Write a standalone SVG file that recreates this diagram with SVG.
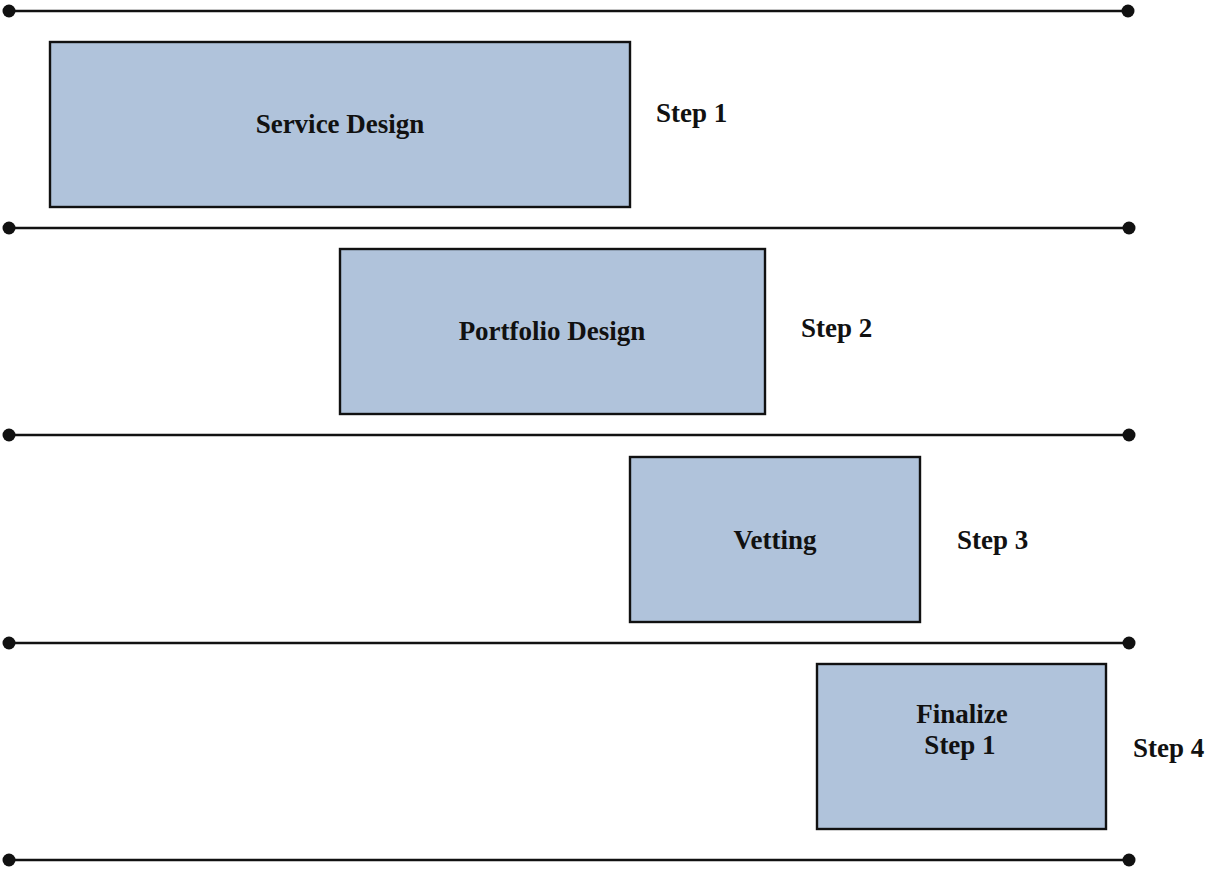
<svg xmlns="http://www.w3.org/2000/svg" width="1205" height="871" viewBox="0 0 1205 871">
  <style>
    .bg { fill: #ffffff; }
    .box { fill: #b0c3db; stroke: #111111; stroke-width: 2.4; }
    .lane { stroke: #111111; stroke-width: 2.5; fill: none; }
    .dot { fill: #111111; }
    .label { font-family: "Liberation Serif", "Times New Roman", serif; font-weight: bold; font-size: 27px; fill: #111111; }
    .mid { text-anchor: middle; }
  </style>
  <rect class="bg" x="0" y="0" width="1205" height="871"/>

  <!-- lane separators with end dots -->
  <g id="connectors">
    <line class="lane" x1="9" y1="11" x2="1128" y2="11"/>
    <circle class="dot" cx="9" cy="11" r="6.5"/><circle class="dot" cx="1128" cy="11" r="6.5"/>
    <line class="lane" x1="9" y1="228" x2="1129" y2="228"/>
    <circle class="dot" cx="9" cy="228" r="6.5"/><circle class="dot" cx="1129" cy="228" r="6.5"/>
    <line class="lane" x1="9" y1="435" x2="1129" y2="435"/>
    <circle class="dot" cx="9" cy="435" r="6.5"/><circle class="dot" cx="1129" cy="435" r="6.5"/>
    <line class="lane" x1="9" y1="643" x2="1129" y2="643"/>
    <circle class="dot" cx="9" cy="643" r="6.5"/><circle class="dot" cx="1129" cy="643" r="6.5"/>
    <line class="lane" x1="9" y1="860" x2="1129" y2="860"/>
    <circle class="dot" cx="9" cy="860" r="6.5"/><circle class="dot" cx="1129" cy="860" r="6.5"/>
  </g>

  <g id="service-design">
    <rect class="box" x="50" y="42" width="580" height="165"/>
    <text class="label mid" x="340" y="133">Service Design</text>
  </g>
  <g id="step1-label">
    <text class="label" x="656" y="122">Step 1</text>
  </g>

  <g id="portfolio-design">
    <rect class="box" x="340" y="249" width="425" height="165"/>
    <text class="label mid" x="552" y="340">Portfolio Design</text>
  </g>
  <g id="step2-label">
    <text class="label" x="801" y="337">Step 2</text>
  </g>

  <g id="vetting">
    <rect class="box" x="630" y="457" width="290" height="165"/>
    <text class="label mid" x="775" y="549">Vetting</text>
  </g>
  <g id="step3-label">
    <text class="label" x="957" y="549">Step 3</text>
  </g>

  <g id="finalize">
    <rect class="box" x="817" y="664" width="289" height="165"/>
    <text class="label mid" x="962" y="723">Finalize</text>
    <text class="label mid" x="960" y="754">Step 1</text>
  </g>
  <g id="step4-label">
    <text class="label" x="1133" y="757">Step 4</text>
  </g>
</svg>
